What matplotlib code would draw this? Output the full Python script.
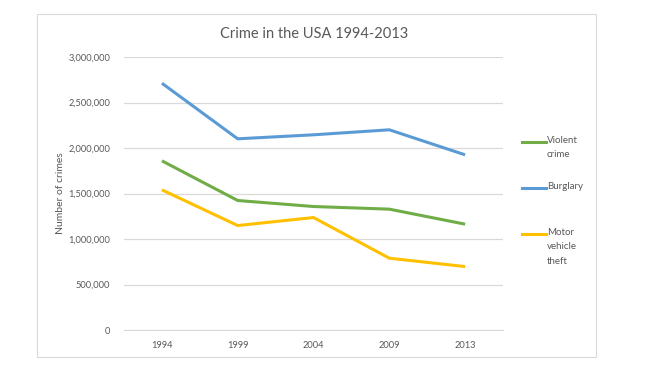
import matplotlib.pyplot as plt
from matplotlib.patches import Rectangle
from matplotlib.lines import Line2D
from matplotlib.ticker import FuncFormatter

plt.rcParams['font.family'] = ['Lato', 'DejaVu Sans']

# Data
years = ['1994', '1999', '2004', '2009', '2013']
violent = [1859000, 1423000, 1357000, 1328000, 1163000]
burglary = [2712000, 2101000, 2145000, 2200000, 1925000]
motor = [1540000, 1148000, 1236000, 789000, 697000]

series = [
    ("Violent\ncrime", violent, '#70AD47'),
    ("Burglary", burglary, '#5B9BD5'),
    ("Motor\nvehicle\ntheft", motor, '#FFC000'),
]

W, H = 648, 377
fig = plt.figure(figsize=(W / 100, H / 100), dpi=100)

# outer chart frame
fig.add_artist(Rectangle((37 / W, 1 - 357 / H), (596 - 37) / W, (357 - 14) / H,
                         transform=fig.transFigure, fill=False,
                         edgecolor='#D9D9D9', linewidth=0.8))

ax = fig.add_axes([124 / W, 1 - 330 / H, (503 - 124) / W, (330 - 57) / H])
x = range(len(years))
for name, vals, color in series:
    ax.plot(x, vals, color=color, linewidth=2.2, solid_capstyle='butt')

ax.set_xlim(-0.5, len(years) - 0.5)
ax.set_ylim(0, 3000000)
ax.set_yticks(range(0, 3000001, 500000))
ax.yaxis.set_major_formatter(FuncFormatter(lambda v, p: f"{int(v):,}"))
ax.set_xticks(list(x))
ax.set_xticklabels(years)
ax.grid(axis='y', color='#D9D9D9', linewidth=0.9)
ax.set_axisbelow(True)
for s in ['top', 'right', 'left']:
    ax.spines[s].set_visible(False)
ax.spines['bottom'].set_color('#D9D9D9')
ax.tick_params(length=0, labelsize=6.7, labelcolor='#595959')
ax.tick_params(axis='y', pad=10)
ax.tick_params(axis='x', pad=8)
ax.set_ylabel("Number of crimes", fontsize=7.5, color='#595959', labelpad=2)
fig.text(314 / W, 1 - 34 / H, "Crime in the USA 1994-2013", ha='center', va='center',
         fontsize=10.5, color='#595959')

# legend on the right, handle aligned to first text line
for i, (name, vals, color) in enumerate(series):
    yy = 1 - (142 + 46 * i) / H
    fig.add_artist(Line2D([522 / W, 546 / W], [yy, yy], transform=fig.transFigure,
                          color=color, linewidth=2.2))
    fig.text(547 / W, yy + 6 / H, name, ha='left', va='top', fontsize=7,
             color='#595959', linespacing=1.75)

fig.savefig('out.png', dpi=100)
